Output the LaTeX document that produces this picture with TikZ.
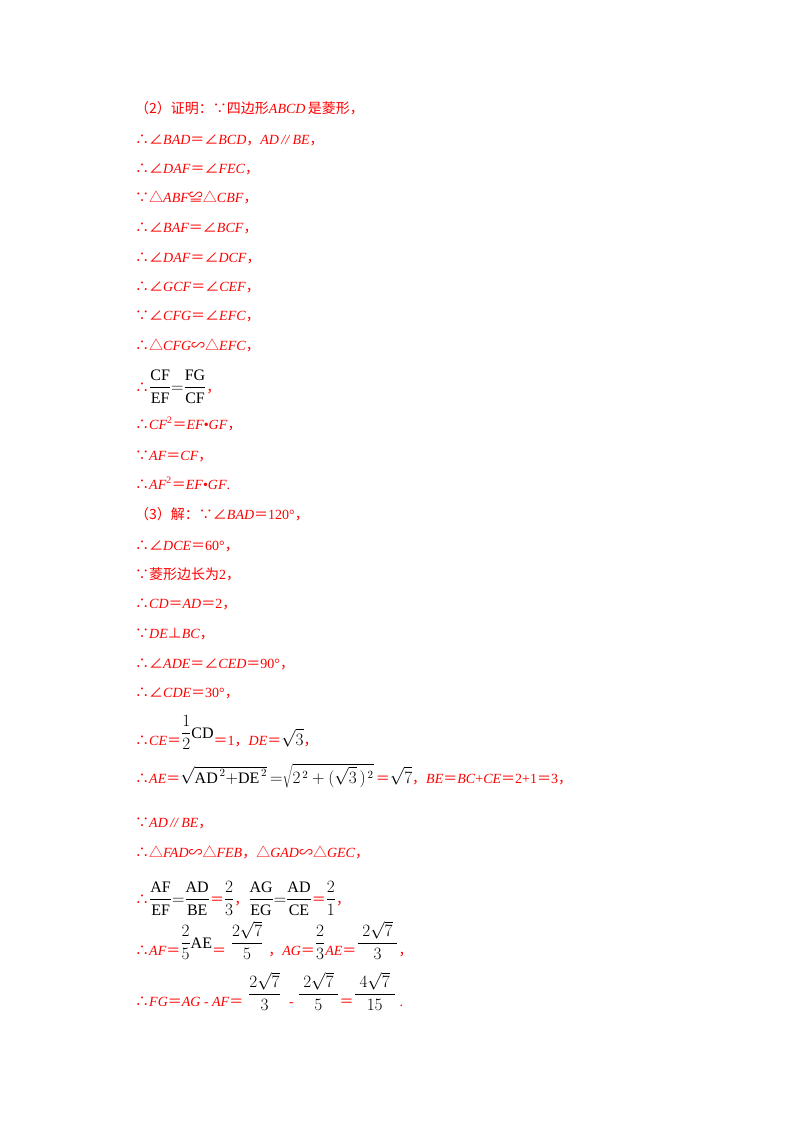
\documentclass[tikz,border=0pt]{standalone}
\usepackage{fontspec}
\setmainfont{Liberation Serif}
\newfontfamily\cjk{Noto Sans CJK SC}
\newcommand{\C}[1]{{\cjk #1}}
\newcommand{\I}[1]{\textit{#1}}
\newcommand{\B}[1]{\textcolor{black}{\fontsize{16}{18}\selectfont$\displaystyle #1$}}
\begin{document}
\begin{tikzpicture}[x=1pt,y=-1pt,
  ln/.style={anchor=base west,inner sep=0pt,text=red,font=\fontsize{14}{16}\selectfont}]
\useasboundingbox (0,0) rectangle (800,1132);
\node[ln] (l1) at (135,113) {\C{（2）证明：∵四边形}\I{ABCD}\,\C{是菱形，}};
\node[ln] (l2) at (135,144) {\C{∴∠}\I{BAD}\C{＝∠}\I{BCD}\C{，}\I{AD}\,\I{//}\,\I{BE}\C{，}};
\node[ln] (l3) at (135,173) {\C{∴∠}\I{DAF}\C{＝∠}\I{FEC}\C{，}};
\node[ln] (l4) at (135,202) {\C{∵△}\I{ABF}\C{≌△}\I{CBF}\C{，}};
\node[ln] (l5) at (135,232) {\C{∴∠}\I{BAF}\C{＝∠}\I{BCF}\C{，}};
\node[ln] (l6) at (135,262) {\C{∴∠}\I{DAF}\C{＝∠}\I{DCF}\C{，}};
\node[ln] (l7) at (135,291) {\C{∴∠}\I{GCF}\C{＝∠}\I{CEF}\C{，}};
\node[ln] (l8) at (135,320) {\C{∵∠}\I{CFG}\C{＝∠}\I{EFC}\C{，}};
\node[ln] (l9) at (135,350) {\C{∴△}\I{CFG}\C{∽△}\I{EFC}\C{，}};
\node[ln] (l10) at (135,392) {\C{∴}\B{\frac{\mathrm{CF}}{\mathrm{EF}}{=}\frac{\mathrm{FG}}{\mathrm{CF}}}\C{，}};
\node[ln] (l11) at (135,429) {\C{∴}\I{CF}\textsuperscript{2}\C{＝}\I{EF}•\I{GF}\C{，}};
\node[ln] (l12) at (135,460) {\C{∵}\I{AF}\C{＝}\I{CF}\C{，}};
\node[ln] (l13) at (135,489) {\C{∴}\I{AF}\textsuperscript{2}\C{＝}\I{EF}•\I{GF}.};
\node[ln] (l14) at (135,519) {\C{（3）解：∵∠}\I{BAD}\C{＝}120°\C{，}};
\node[ln] (l15) at (135,550) {\C{∴∠}\I{DCE}\C{＝}60°\C{，}};
\node[ln] (l16) at (135,579) {\C{∵菱形边长为}2\C{，}};
\node[ln] (l17) at (135,608) {\C{∴}\I{CD}\C{＝}\I{AD}\C{＝}2\C{，}};
\node[ln] (l18) at (135,638) {\C{∵}\I{DE}\C{⊥}\I{BC}\C{，}};
\node[ln] (l19) at (135,668) {\C{∴∠}\I{ADE}\C{＝∠}\I{CED}\C{＝}90°\C{，}};
\node[ln] (l20) at (135,697) {\C{∴∠}\I{CDE}\C{＝}30°\C{，}};
\node[ln] (l21) at (135,745) {\C{∴}\I{CE}\C{＝}\raisebox{7pt}{\B{\frac{1}{2}\mathrm{CD}}}\C{＝}1\C{，}\I{DE}\C{＝}\B{\sqrt{3}}\C{，}};
\node[ln] (l22) at (135,783) {\C{∴}\I{AE}\C{＝}\B{\sqrt{\mathrm{AD}^{\,2}{+}\mathrm{DE}^{\,2}}\,{=}\sqrt{2^{\,2}+(\sqrt{3}\,)^{\,2}}}\,\C{＝}\B{\sqrt{7}}\C{，}\I{BE}\C{＝}\I{BC}+\I{CE}\C{＝}2+1\C{＝}3\C{，}};
\node[ln] (l23) at (135,827) {\C{∵}\I{AD}\,\I{//}\,\I{BE}\C{，}};
\node[ln] (l24) at (135,857) {\C{∴△}\I{FAD}\C{∽△}\I{FEB}\C{，△}\I{GAD}\C{∽△}\I{GEC}\C{，}};
\node[ln] (l25) at (135,904) {\C{∴}\B{\frac{\mathrm{AF}}{\mathrm{EF}}{=}\frac{\mathrm{AD}}{\mathrm{BE}}}\C{＝}\B{\frac{2}{3}}\C{，}\B{\frac{\mathrm{AG}}{\mathrm{EG}}{=}\frac{\mathrm{AD}}{\mathrm{CE}}}\C{＝}\B{\frac{2}{1}}\C{，}};
\node[ln] (l26) at (135,955) {\C{∴}\I{AF}\C{＝}\raisebox{7pt}{\B{\frac{2}{5}\mathrm{AE}}}\C{＝}\raisebox{7pt}{\B{\;\frac{2\sqrt{7}}{5}\;}}\C{，}\I{AG}\C{＝}\raisebox{7pt}{\B{\frac{2}{3}}}\I{AE}\C{＝}\raisebox{7pt}{\B{\frac{\;2\sqrt{7}\;}{3}}}\C{，}};
\node[ln] (l27) at (135,1006) {\C{∴}\I{FG}\C{＝}\I{AG} - \I{AF}\C{＝}\raisebox{7pt}{\B{\;\frac{2\sqrt{7}}{3}\;}} - \raisebox{7pt}{\B{\frac{\;2\sqrt{7}\;}{5}}}\C{＝}\raisebox{7pt}{\B{\frac{\;4\sqrt{7}\;}{15}}}\;.};
\end{tikzpicture}
\end{document}
